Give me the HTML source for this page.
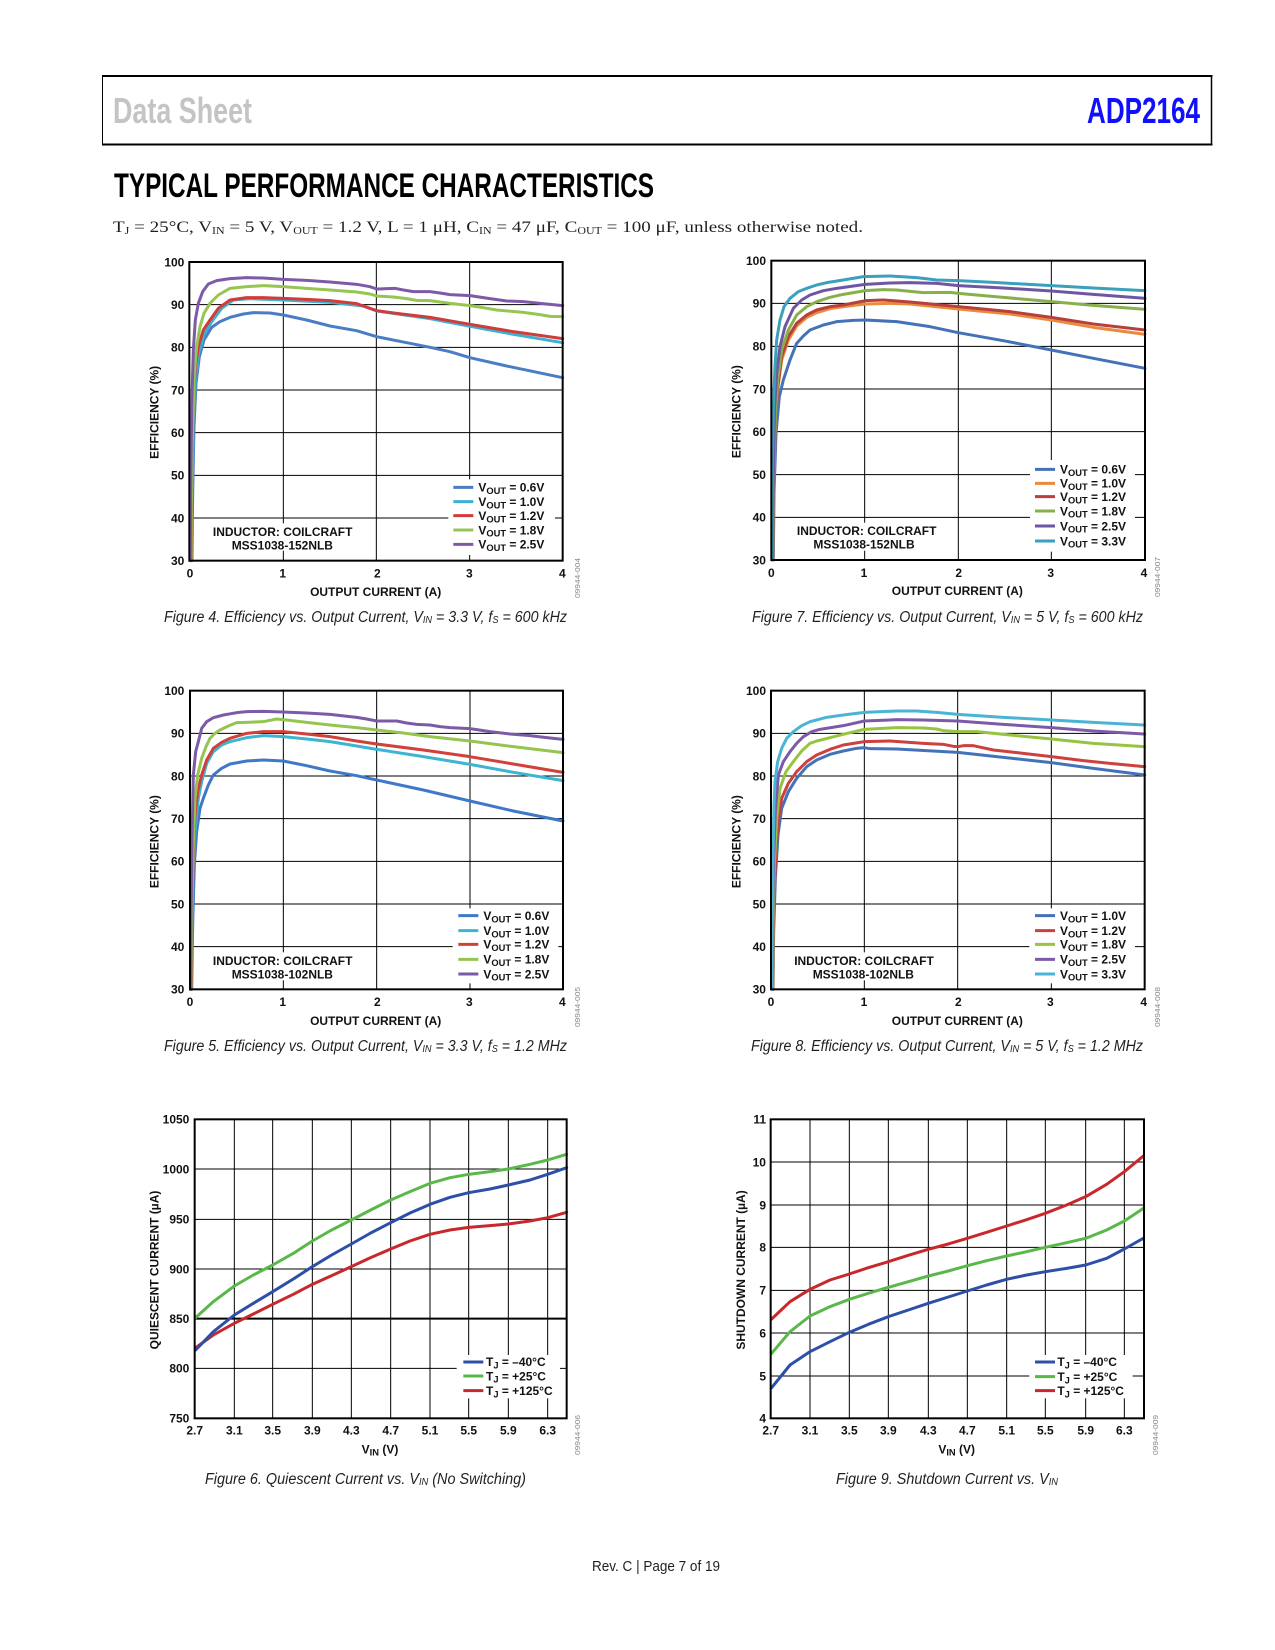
<!DOCTYPE html>
<html><head><meta charset="utf-8"><style>
html,body{margin:0;padding:0;background:#fff;}
svg{display:block;}
.c{fill:none;stroke-width:9;stroke-linejoin:round;stroke-linecap:round;}
.t{font-family:"Liberation Sans",Arial,sans-serif;font-weight:bold;font-size:36px;fill:#111;}
.cap{font-family:"Liberation Sans",Arial,sans-serif;font-style:italic;font-size:15.5px;fill:#231f20;}
.fid{font-family:"Liberation Sans",Arial,sans-serif;font-size:7.5px;fill:#888;}
</style></head><body>
<svg width="1275" height="1650" viewBox="0 0 1275 1650" xmlns="http://www.w3.org/2000/svg">
<rect width="1275" height="1650" fill="#fff"/>
<!-- header -->
<line x1="102" y1="76" x2="1212.5" y2="76" stroke="#000" stroke-width="2"/>
<line x1="102" y1="144.5" x2="1212.5" y2="144.5" stroke="#000" stroke-width="2"/>
<line x1="102.5" y1="76" x2="102.5" y2="144.5" stroke="#000" stroke-width="1"/>
<line x1="1211.5" y1="76" x2="1211.5" y2="144.5" stroke="#000" stroke-width="1.5"/>
<text x="113" y="123" font-family="Liberation Sans, Arial, sans-serif" font-size="36" font-weight="bold" fill="#c4c4c4" textLength="139" lengthAdjust="spacingAndGlyphs">Data Sheet</text>
<text x="1087" y="123" font-family="Liberation Sans, Arial, sans-serif" font-size="36" font-weight="bold" fill="#1010ff" textLength="113" lengthAdjust="spacingAndGlyphs">ADP2164</text>
<text x="114" y="197" font-family="Liberation Sans, Arial, sans-serif" font-size="34" font-weight="bold" fill="#000" textLength="540" lengthAdjust="spacingAndGlyphs">TYPICAL PERFORMANCE CHARACTERISTICS</text>
<text x="113" y="232" font-family="Liberation Serif, Times New Roman, serif" font-size="16" fill="#231f20" textLength="750" lengthAdjust="spacingAndGlyphs">T<tspan font-size="10" dy="2">J</tspan><tspan dy="-2"> = 25°C, V</tspan><tspan font-size="10" dy="2">IN</tspan><tspan dy="-2"> = 5 V, V</tspan><tspan font-size="10" dy="2">OUT</tspan><tspan dy="-2"> = 1.2 V, L = 1 μH, C</tspan><tspan font-size="10" dy="2">IN</tspan><tspan dy="-2"> = 47 μF, C</tspan><tspan font-size="10" dy="2">OUT</tspan><tspan dy="-2"> = 100 μF, unless otherwise noted.</tspan></text>

<!-- ============ CHART A (Fig 4) ============ -->
<g transform="translate(130,240) scale(0.333333)">
 <g stroke="#000" stroke-width="3">
  <line x1="460" y1="66" x2="460" y2="962"/><line x1="739" y1="66" x2="739" y2="962"/><line x1="1019" y1="66" x2="1019" y2="962"/>
  <line x1="178" y1="194" x2="1298" y2="194"/><line x1="178" y1="322" x2="1298" y2="322"/><line x1="178" y1="450" x2="1298" y2="450"/>
  <line x1="178" y1="578" x2="1298" y2="578"/><line x1="178" y1="706" x2="1298" y2="706"/><line x1="178" y1="834" x2="1298" y2="834"/>
 </g>
 <rect x="955" y="718" width="320" height="227" fill="#fff"/>
 <rect x="235" y="850" width="450" height="82" fill="#fff"/>
 <polyline class="c" stroke="#4a7dc4" points="186,962 188,760 192,560 198,430 208,350 222,300 245,262 270,245 300,232 340,222 370,218 420,219 460,225 530,240 600,258 680,272 740,290 800,302 900,322 960,335 1020,353 1130,378 1298,413"/>
 <polyline class="c" stroke="#3cb0d0" points="184,962 186,760 190,540 196,420 206,340 222,285 245,245 275,205 310,180 360,176 460,180 600,187 700,198 740,213 900,236 1020,259 1150,283 1298,308"/>
 <polyline class="c" stroke="#d03c3c" points="184,962 186,700 190,480 196,380 205,320 220,270 240,240 265,205 300,180 350,173 400,173 460,175 530,178 600,182 680,191 740,212 800,220 900,232 1020,253 1150,275 1298,296"/>
 <polyline class="c" stroke="#98c452" points="183,962 184,800 188,560 193,400 200,320 210,260 222,220 240,190 265,165 300,145 350,140 400,137 460,140 530,145 600,150 680,156 720,162 740,168 790,171 830,176 860,181 900,182 960,190 1020,197 1060,203 1100,210 1180,217 1230,224 1260,229 1298,230"/>
 <polyline class="c" stroke="#7d5aa8" points="181,962 182,760 185,500 190,330 196,240 205,190 218,155 235,132 260,122 300,116 350,113 400,114 460,118 530,121 600,126 680,133 720,140 740,147 770,146 795,145 820,150 850,155 900,155 930,159 960,164 1020,167 1080,176 1130,183 1180,185 1230,190 1298,197"/>
 <rect x="178" y="66" width="1120" height="896" fill="none" stroke="#000" stroke-width="6"/>
 <g class="t">
  <g text-anchor="end"><text x="163" y="79">100</text><text x="163" y="207">90</text><text x="163" y="335">80</text><text x="163" y="463">70</text><text x="163" y="591">60</text><text x="163" y="719">50</text><text x="163" y="847">40</text><text x="163" y="975">30</text></g>
  <g text-anchor="middle"><text x="180" y="1013">0</text><text x="458" y="1013">1</text><text x="742" y="1013">2</text><text x="1018" y="1013">3</text><text x="1297" y="1013">4</text>
  <text x="737" y="1068">OUTPUT CURRENT (A)</text>
  <text transform="translate(72,517) rotate(-90)" x="0" y="13">EFFICIENCY (%)</text>
  <text x="458" y="888">INDUCTOR: COILCRAFT</text><text x="457" y="928">MSS1038-152NLB</text></g>
  <g stroke-width="9">
   <line x1="970" y1="742" x2="1030" y2="742" stroke="#4a7dc4"/><line x1="970" y1="785" x2="1030" y2="785" stroke="#3cb0d0"/><line x1="970" y1="827" x2="1030" y2="827" stroke="#d03c3c"/><line x1="970" y1="870" x2="1030" y2="870" stroke="#98c452"/><line x1="970" y1="913" x2="1030" y2="913" stroke="#7d5aa8"/>
  </g>
  <text x="1045" y="755">V<tspan font-size="28" dy="7">OUT</tspan><tspan dy="-7"> = 0.6V</tspan></text>
  <text x="1045" y="798">V<tspan font-size="28" dy="7">OUT</tspan><tspan dy="-7"> = 1.0V</tspan></text>
  <text x="1045" y="840">V<tspan font-size="28" dy="7">OUT</tspan><tspan dy="-7"> = 1.2V</tspan></text>
  <text x="1045" y="883">V<tspan font-size="28" dy="7">OUT</tspan><tspan dy="-7"> = 1.8V</tspan></text>
  <text x="1045" y="926">V<tspan font-size="28" dy="7">OUT</tspan><tspan dy="-7"> = 2.5V</tspan></text>
 </g>
</g>
<text class="fid" transform="translate(580,578) rotate(-90)" text-anchor="middle" textLength="40" lengthAdjust="spacingAndGlyphs">09944-004</text>
<text class="cap" x="164" y="622" textLength="403" lengthAdjust="spacingAndGlyphs">Figure 4. Efficiency vs. Output Current, V<tspan font-size="10" dy="1">IN</tspan><tspan dy="-1"> = 3.3 V, f</tspan><tspan font-size="10" dy="1">S</tspan><tspan dy="-1"> = 600 kHz</tspan></text>

<!-- ============ CHART B (Fig 7) ============ -->
<g transform="translate(710,240) scale(0.333333)">
 <g stroke="#000" stroke-width="3">
  <line x1="464" y1="62" x2="464" y2="960"/><line x1="745" y1="62" x2="745" y2="960"/><line x1="1024" y1="62" x2="1024" y2="960"/>
  <line x1="184" y1="190" x2="1305" y2="190"/><line x1="184" y1="319" x2="1305" y2="319"/><line x1="184" y1="447" x2="1305" y2="447"/>
  <line x1="184" y1="575" x2="1305" y2="575"/><line x1="184" y1="704" x2="1305" y2="704"/><line x1="184" y1="832" x2="1305" y2="832"/>
 </g>
 <rect x="960" y="660" width="315" height="275" fill="#fff"/>
 <rect x="245" y="848" width="450" height="84" fill="#fff"/>
 <polyline class="c" stroke="#4472b8" points="190,960 192,760 198,580 208,470 220,420 240,360 260,310 280,288 300,270 340,255 380,245 430,241 466,240 560,245 660,260 745,278 880,302 1024,330 1150,355 1305,385"/>
 <polyline class="c" stroke="#ea8a3c" points="189,960 191,730 196,550 203,450 215,360 235,300 260,258 290,232 320,218 360,206 400,200 466,192 540,190 600,192 745,207 900,222 1024,240 1150,262 1305,283"/>
 <polyline class="c" stroke="#b8403c" points="189,960 191,720 196,540 203,440 215,350 235,290 260,250 290,225 320,210 360,200 400,195 466,182 520,180 600,186 745,200 900,215 1024,232 1150,252 1305,270"/>
 <polyline class="c" stroke="#88b04a" points="189,960 191,720 196,520 203,420 215,330 235,270 260,225 290,200 320,185 360,172 400,163 466,152 520,149 560,150 620,156 640,158 720,157 745,160 880,172 1024,185 1150,196 1305,208"/>
 <polyline class="c" stroke="#6f56a2" points="188,960 190,700 194,500 200,400 210,320 225,260 250,205 275,180 300,165 340,152 380,145 466,133 540,129 600,128 680,130 745,137 880,144 1024,153 1150,163 1305,175"/>
 <polyline class="c" stroke="#3aa0bc" points="186,960 187,700 190,500 195,380 200,300 210,240 222,200 240,175 265,155 290,145 320,135 350,128 400,120 460,110 540,108 620,113 680,120 745,122 850,127 1024,137 1150,144 1305,152"/>
 <rect x="184" y="62" width="1121" height="898" fill="none" stroke="#000" stroke-width="6"/>
 <g class="t">
  <g text-anchor="end"><text x="168" y="75">100</text><text x="168" y="203">90</text><text x="168" y="332">80</text><text x="168" y="460">70</text><text x="168" y="588">60</text><text x="168" y="717">50</text><text x="168" y="845">40</text><text x="168" y="973">30</text></g>
  <g text-anchor="middle"><text x="184" y="1011">0</text><text x="462" y="1011">1</text><text x="746" y="1011">2</text><text x="1022" y="1011">3</text><text x="1302" y="1011">4</text>
  <text x="742" y="1065">OUTPUT CURRENT (A)</text>
  <text transform="translate(78,515) rotate(-90)" x="0" y="13">EFFICIENCY (%)</text>
  <text x="470" y="885">INDUCTOR: COILCRAFT</text><text x="462" y="926">MSS1038-152NLB</text></g>
  <g stroke-width="9">
   <line x1="975" y1="688" x2="1035" y2="688" stroke="#4472b8"/><line x1="975" y1="730" x2="1035" y2="730" stroke="#ea8a3c"/><line x1="975" y1="770" x2="1035" y2="770" stroke="#b8403c"/><line x1="975" y1="813" x2="1035" y2="813" stroke="#88b04a"/><line x1="975" y1="858" x2="1035" y2="858" stroke="#6f56a2"/><line x1="975" y1="903" x2="1035" y2="903" stroke="#3aa0bc"/>
  </g>
  <text x="1050" y="701">V<tspan font-size="28" dy="7">OUT</tspan><tspan dy="-7"> = 0.6V</tspan></text>
  <text x="1050" y="743">V<tspan font-size="28" dy="7">OUT</tspan><tspan dy="-7"> = 1.0V</tspan></text>
  <text x="1050" y="783">V<tspan font-size="28" dy="7">OUT</tspan><tspan dy="-7"> = 1.2V</tspan></text>
  <text x="1050" y="826">V<tspan font-size="28" dy="7">OUT</tspan><tspan dy="-7"> = 1.8V</tspan></text>
  <text x="1050" y="871">V<tspan font-size="28" dy="7">OUT</tspan><tspan dy="-7"> = 2.5V</tspan></text>
  <text x="1050" y="916">V<tspan font-size="28" dy="7">OUT</tspan><tspan dy="-7"> = 3.3V</tspan></text>
 </g>
</g>
<text class="fid" transform="translate(1160,577) rotate(-90)" text-anchor="middle" textLength="40" lengthAdjust="spacingAndGlyphs">09944-007</text>
<text class="cap" x="752" y="622" textLength="391" lengthAdjust="spacingAndGlyphs">Figure 7. Efficiency vs. Output Current, V<tspan font-size="10" dy="1">IN</tspan><tspan dy="-1"> = 5 V, f</tspan><tspan font-size="10" dy="1">S</tspan><tspan dy="-1"> = 600 kHz</tspan></text>

<!-- ============ CHART C (Fig 5) ============ -->
<g transform="translate(130,665) scale(0.333333)">
 <g stroke="#000" stroke-width="3">
  <line x1="460" y1="77" x2="460" y2="973"/><line x1="740" y1="77" x2="740" y2="973"/><line x1="1020" y1="77" x2="1020" y2="973"/>
  <line x1="180" y1="205" x2="1299" y2="205"/><line x1="180" y1="333" x2="1299" y2="333"/><line x1="180" y1="461" x2="1299" y2="461"/>
  <line x1="180" y1="589" x2="1299" y2="589"/><line x1="180" y1="717" x2="1299" y2="717"/><line x1="180" y1="845" x2="1299" y2="845"/>
 </g>
 <rect x="968" y="730" width="317" height="225" fill="#fff"/>
 <rect x="235" y="862" width="450" height="84" fill="#fff"/>
 <polyline class="c" stroke="#3f78c8" points="185,973 188,780 193,600 200,500 210,430 220,400 235,360 250,330 275,310 300,297 350,288 400,285 460,288 530,302 600,318 680,332 740,345 880,375 1020,408 1150,438 1299,468"/>
 <polyline class="c" stroke="#3cb4d2" points="184,973 186,780 190,600 195,500 205,400 215,350 230,295 250,260 275,240 300,230 350,218 400,212 460,215 530,222 600,230 680,243 740,253 880,275 1020,298 1150,322 1299,347"/>
 <polyline class="c" stroke="#d2403a" points="184,973 186,760 190,560 195,450 203,380 215,330 230,285 250,250 275,232 300,220 350,205 400,200 460,200 530,207 600,215 680,228 740,237 880,255 1020,275 1150,297 1299,322"/>
 <polyline class="c" stroke="#96c450" points="183,973 185,780 189,560 195,400 203,330 215,280 228,245 240,220 255,205 270,195 295,183 320,173 350,172 400,170 440,162 460,164 530,172 600,180 680,188 740,195 820,204 900,215 1020,228 1150,245 1299,263"/>
 <polyline class="c" stroke="#7c5ba6" points="182,973 183,760 186,520 190,330 197,260 205,230 215,190 230,170 250,158 280,150 320,143 350,140 400,139 460,141 530,144 600,148 680,157 710,162 740,168 800,168 830,174 860,178 900,180 930,185 960,188 1020,191 1080,200 1140,207 1200,212 1250,218 1299,223"/>
 <rect x="180" y="77" width="1119" height="896" fill="none" stroke="#000" stroke-width="6"/>
 <g class="t">
  <g text-anchor="end"><text x="163" y="90">100</text><text x="163" y="218">90</text><text x="163" y="346">80</text><text x="163" y="474">70</text><text x="163" y="602">60</text><text x="163" y="730">50</text><text x="163" y="858">40</text><text x="163" y="986">30</text></g>
  <g text-anchor="middle"><text x="180" y="1023">0</text><text x="458" y="1023">1</text><text x="742" y="1023">2</text><text x="1018" y="1023">3</text><text x="1297" y="1023">4</text>
  <text x="737" y="1080">OUTPUT CURRENT (A)</text>
  <text transform="translate(72,530) rotate(-90)" x="0" y="13">EFFICIENCY (%)</text>
  <text x="458" y="900">INDUCTOR: COILCRAFT</text><text x="457" y="941">MSS1038-102NLB</text></g>
  <g stroke-width="9">
   <line x1="985" y1="752" x2="1045" y2="752" stroke="#3f78c8"/><line x1="985" y1="797" x2="1045" y2="797" stroke="#3cb4d2"/><line x1="985" y1="838" x2="1045" y2="838" stroke="#d2403a"/><line x1="985" y1="883" x2="1045" y2="883" stroke="#96c450"/><line x1="985" y1="927" x2="1045" y2="927" stroke="#7c5ba6"/>
  </g>
  <text x="1060" y="765">V<tspan font-size="28" dy="7">OUT</tspan><tspan dy="-7"> = 0.6V</tspan></text>
  <text x="1060" y="810">V<tspan font-size="28" dy="7">OUT</tspan><tspan dy="-7"> = 1.0V</tspan></text>
  <text x="1060" y="851">V<tspan font-size="28" dy="7">OUT</tspan><tspan dy="-7"> = 1.2V</tspan></text>
  <text x="1060" y="896">V<tspan font-size="28" dy="7">OUT</tspan><tspan dy="-7"> = 1.8V</tspan></text>
  <text x="1060" y="940">V<tspan font-size="28" dy="7">OUT</tspan><tspan dy="-7"> = 2.5V</tspan></text>
 </g>
</g>
<text class="fid" transform="translate(580,1007) rotate(-90)" text-anchor="middle" textLength="40" lengthAdjust="spacingAndGlyphs">09944-005</text>
<text class="cap" x="164" y="1051" textLength="403" lengthAdjust="spacingAndGlyphs">Figure 5. Efficiency vs. Output Current, V<tspan font-size="10" dy="1">IN</tspan><tspan dy="-1"> = 3.3 V, f</tspan><tspan font-size="10" dy="1">S</tspan><tspan dy="-1"> = 1.2 MHz</tspan></text>

<!-- ============ CHART D (Fig 8) ============ -->
<g transform="translate(710,665) scale(0.333333)">
 <g stroke="#000" stroke-width="3">
  <line x1="463" y1="77" x2="463" y2="973"/><line x1="743" y1="77" x2="743" y2="973"/><line x1="1024" y1="77" x2="1024" y2="973"/>
  <line x1="183" y1="205" x2="1304" y2="205"/><line x1="183" y1="333" x2="1304" y2="333"/><line x1="183" y1="461" x2="1304" y2="461"/>
  <line x1="183" y1="589" x2="1304" y2="589"/><line x1="183" y1="717" x2="1304" y2="717"/><line x1="183" y1="845" x2="1304" y2="845"/>
 </g>
 <rect x="958" y="730" width="317" height="225" fill="#fff"/>
 <rect x="240" y="862" width="450" height="84" fill="#fff"/>
 <polyline class="c" stroke="#4472b8" points="189,973 191,800 196,640 204,510 215,430 235,380 260,340 290,305 320,285 360,268 400,258 440,250 463,248 480,251 560,252 743,262 880,277 1024,293 1150,310 1304,330"/>
 <polyline class="c" stroke="#cc403e" points="189,973 190,800 195,620 203,480 215,400 235,355 260,320 290,290 320,270 360,253 400,240 463,230 540,228 640,235 700,238 730,244 743,245 760,242 790,242 850,255 940,265 1024,275 1120,287 1200,295 1304,305"/>
 <polyline class="c" stroke="#96c440" points="188,973 189,780 193,600 200,460 210,370 228,320 250,290 275,258 300,235 320,228 360,218 400,208 463,193 560,188 640,189 680,192 700,197 743,200 800,200 900,210 1024,222 1150,235 1304,245"/>
 <polyline class="c" stroke="#7c5aa8" points="187,973 188,760 191,580 196,440 205,330 220,290 240,260 260,235 280,215 305,200 330,193 400,182 463,168 560,164 640,165 743,168 880,178 1024,188 1150,198 1304,207"/>
 <polyline class="c" stroke="#4ab4d4" points="186,973 187,760 189,560 192,420 195,350 203,290 215,250 230,220 250,200 275,182 300,170 350,157 400,150 463,142 560,138 620,138 680,142 743,148 880,157 1024,165 1150,172 1304,180"/>
 <rect x="183" y="77" width="1121" height="896" fill="none" stroke="#000" stroke-width="6"/>
 <g class="t">
  <g text-anchor="end"><text x="168" y="90">100</text><text x="168" y="218">90</text><text x="168" y="346">80</text><text x="168" y="474">70</text><text x="168" y="602">60</text><text x="168" y="730">50</text><text x="168" y="858">40</text><text x="168" y="986">30</text></g>
  <g text-anchor="middle"><text x="183" y="1023">0</text><text x="462" y="1023">1</text><text x="745" y="1023">2</text><text x="1021" y="1023">3</text><text x="1301" y="1023">4</text>
  <text x="742" y="1080">OUTPUT CURRENT (A)</text>
  <text transform="translate(78,530) rotate(-90)" x="0" y="13">EFFICIENCY (%)</text>
  <text x="462" y="900">INDUCTOR: COILCRAFT</text><text x="460" y="941">MSS1038-102NLB</text></g>
  <g stroke-width="9">
   <line x1="975" y1="752" x2="1035" y2="752" stroke="#4472b8"/><line x1="975" y1="797" x2="1035" y2="797" stroke="#cc403e"/><line x1="975" y1="838" x2="1035" y2="838" stroke="#96c440"/><line x1="975" y1="883" x2="1035" y2="883" stroke="#7c5aa8"/><line x1="975" y1="927" x2="1035" y2="927" stroke="#4ab4d4"/>
  </g>
  <text x="1050" y="765">V<tspan font-size="28" dy="7">OUT</tspan><tspan dy="-7"> = 1.0V</tspan></text>
  <text x="1050" y="810">V<tspan font-size="28" dy="7">OUT</tspan><tspan dy="-7"> = 1.2V</tspan></text>
  <text x="1050" y="851">V<tspan font-size="28" dy="7">OUT</tspan><tspan dy="-7"> = 1.8V</tspan></text>
  <text x="1050" y="896">V<tspan font-size="28" dy="7">OUT</tspan><tspan dy="-7"> = 2.5V</tspan></text>
  <text x="1050" y="940">V<tspan font-size="28" dy="7">OUT</tspan><tspan dy="-7"> = 3.3V</tspan></text>
 </g>
</g>
<text class="fid" transform="translate(1160,1007) rotate(-90)" text-anchor="middle" textLength="40" lengthAdjust="spacingAndGlyphs">09944-008</text>
<text class="cap" x="751" y="1051" textLength="392" lengthAdjust="spacingAndGlyphs">Figure 8. Efficiency vs. Output Current, V<tspan font-size="10" dy="1">IN</tspan><tspan dy="-1"> = 5 V, f</tspan><tspan font-size="10" dy="1">S</tspan><tspan dy="-1"> = 1.2 MHz</tspan></text>

<!-- ============ CHART E (Fig 6) ============ -->
<g transform="translate(130,1095) scale(0.333333)">
 <g stroke="#000" stroke-width="3">
  <line x1="313" y1="73" x2="313" y2="970"/><line x1="428" y1="73" x2="428" y2="970"/><line x1="547" y1="73" x2="547" y2="970"/><line x1="664" y1="73" x2="664" y2="970"/><line x1="782" y1="73" x2="782" y2="970"/><line x1="900" y1="73" x2="900" y2="970"/><line x1="1016" y1="73" x2="1016" y2="970"/><line x1="1135" y1="73" x2="1135" y2="970"/><line x1="1253" y1="73" x2="1253" y2="970"/>
  <line x1="194" y1="222" x2="1310" y2="222"/><line x1="194" y1="373" x2="1310" y2="373"/><line x1="194" y1="522" x2="1310" y2="522"/><line x1="194" y1="820" x2="1310" y2="820"/>
  <line x1="194" y1="671" x2="1310" y2="671" stroke-width="6"/>
 </g>
 <rect x="980" y="780" width="310" height="130" fill="#fff"/>
 <polyline class="c" stroke="#c8282c" points="197,758 250,720 313,685 370,657 428,628 490,598 547,568 605,542 664,515 722,488 782,462 840,438 900,418 960,405 1016,397 1080,392 1135,387 1200,378 1253,368 1310,352"/>
 <polyline class="c" stroke="#2d4fa8" points="197,765 250,710 313,660 370,625 428,590 490,552 547,515 605,480 664,447 722,414 782,383 840,354 900,328 960,307 1016,293 1080,282 1135,270 1200,255 1253,238 1310,218"/>
 <polyline class="c" stroke="#5ab84a" points="197,668 250,620 313,573 370,540 428,510 490,475 547,438 605,405 664,375 722,345 782,315 840,290 900,265 960,248 1016,238 1080,230 1135,222 1200,208 1253,195 1310,178"/>
 <rect x="194" y="73" width="1116" height="897" fill="none" stroke="#000" stroke-width="6"/>
 <g class="t">
  <g text-anchor="end"><text x="178" y="86">1050</text><text x="178" y="235">1000</text><text x="178" y="386">950</text><text x="178" y="535">900</text><text x="178" y="684">850</text><text x="178" y="833">800</text><text x="178" y="983">750</text></g>
  <g text-anchor="middle"><text x="194" y="1018">2.7</text><text x="313" y="1018">3.1</text><text x="428" y="1018">3.5</text><text x="547" y="1018">3.9</text><text x="664" y="1018">4.3</text><text x="782" y="1018">4.7</text><text x="900" y="1018">5.1</text><text x="1016" y="1018">5.5</text><text x="1135" y="1018">5.9</text><text x="1253" y="1018">6.3</text>
  <text x="750" y="1075">V<tspan font-size="28" dy="7">IN</tspan><tspan dy="-7"> (V)</tspan></text>
  <text transform="translate(72,525) rotate(-90)" x="0" y="13">QUIESCENT CURRENT (µA)</text></g>
  <g stroke-width="9">
   <line x1="1000" y1="801" x2="1060" y2="801" stroke="#2d4fa8"/><line x1="1000" y1="843" x2="1060" y2="843" stroke="#5ab84a"/><line x1="1000" y1="887" x2="1060" y2="887" stroke="#c8282c"/>
  </g>
  <text x="1068" y="813">T<tspan font-size="28" dy="7">J</tspan><tspan dy="-7"> = –40°C</tspan></text>
  <text x="1068" y="856">T<tspan font-size="28" dy="7">J</tspan><tspan dy="-7"> = +25°C</tspan></text>
  <text x="1068" y="900">T<tspan font-size="28" dy="7">J</tspan><tspan dy="-7"> = +125°C</tspan></text>
 </g>
</g>
<text class="fid" transform="translate(580,1435) rotate(-90)" text-anchor="middle" textLength="40" lengthAdjust="spacingAndGlyphs">09944-006</text>
<text class="cap" x="205" y="1484" textLength="321" lengthAdjust="spacingAndGlyphs">Figure 6. Quiescent Current vs. V<tspan font-size="10" dy="1">IN</tspan><tspan dy="-1"> (No Switching)</tspan></text>

<!-- ============ CHART F (Fig 9) ============ -->
<g transform="translate(710,1095) scale(0.333333)">
 <g stroke="#000" stroke-width="3">
  <line x1="300" y1="73" x2="300" y2="970"/><line x1="418" y1="73" x2="418" y2="970"/><line x1="535" y1="73" x2="535" y2="970"/><line x1="655" y1="73" x2="655" y2="970"/><line x1="772" y1="73" x2="772" y2="970"/><line x1="890" y1="73" x2="890" y2="970"/><line x1="1006" y1="73" x2="1006" y2="970"/><line x1="1127" y1="73" x2="1127" y2="970"/><line x1="1243" y1="73" x2="1243" y2="970"/>
  <line x1="182" y1="201" x2="1302" y2="201"/><line x1="182" y1="330" x2="1302" y2="330"/><line x1="182" y1="457" x2="1302" y2="457"/><line x1="182" y1="586" x2="1302" y2="586"/><line x1="182" y1="714" x2="1302" y2="714"/><line x1="182" y1="843" x2="1302" y2="843"/>
 </g>
 <rect x="958" y="780" width="310" height="130" fill="#fff"/>
 <polyline class="c" stroke="#2d4fa8" points="185,878 240,810 300,770 360,740 418,712 475,688 535,665 595,645 655,625 715,606 772,588 830,570 890,553 950,540 1006,530 1070,520 1127,510 1190,490 1243,462 1300,430"/>
 <polyline class="c" stroke="#5ab84a" points="185,775 240,710 300,663 360,635 418,613 475,595 535,577 595,560 655,543 715,528 772,512 830,497 890,483 950,470 1006,457 1070,443 1127,430 1190,405 1243,378 1300,340"/>
 <polyline class="c" stroke="#c8282c" points="185,672 240,620 300,583 360,555 418,537 475,518 535,500 595,481 655,463 715,447 772,430 830,412 890,393 950,374 1006,355 1070,330 1127,305 1190,268 1243,230 1300,183"/>
 <rect x="182" y="73" width="1120" height="897" fill="none" stroke="#000" stroke-width="6"/>
 <g class="t">
  <g text-anchor="end"><text x="168" y="86">11</text><text x="168" y="214">10</text><text x="168" y="343">9</text><text x="168" y="470">8</text><text x="168" y="599">7</text><text x="168" y="727">6</text><text x="168" y="856">5</text><text x="168" y="983">4</text></g>
  <g text-anchor="middle"><text x="182" y="1018">2.7</text><text x="300" y="1018">3.1</text><text x="418" y="1018">3.5</text><text x="535" y="1018">3.9</text><text x="655" y="1018">4.3</text><text x="772" y="1018">4.7</text><text x="890" y="1018">5.1</text><text x="1006" y="1018">5.5</text><text x="1127" y="1018">5.9</text><text x="1243" y="1018">6.3</text>
  <text x="740" y="1075">V<tspan font-size="28" dy="7">IN</tspan><tspan dy="-7"> (V)</tspan></text>
  <text transform="translate(92,525) rotate(-90)" x="0" y="13">SHUTDOWN CURRENT (µA)</text></g>
  <g stroke-width="9">
   <line x1="975" y1="801" x2="1035" y2="801" stroke="#2d4fa8"/><line x1="975" y1="845" x2="1035" y2="845" stroke="#5ab84a"/><line x1="975" y1="887" x2="1035" y2="887" stroke="#c8282c"/>
  </g>
  <text x="1042" y="813">T<tspan font-size="28" dy="7">J</tspan><tspan dy="-7"> = –40°C</tspan></text>
  <text x="1042" y="858">T<tspan font-size="28" dy="7">J</tspan><tspan dy="-7"> = +25°C</tspan></text>
  <text x="1042" y="900">T<tspan font-size="28" dy="7">J</tspan><tspan dy="-7"> = +125°C</tspan></text>
 </g>
</g>
<text class="fid" transform="translate(1158,1435) rotate(-90)" text-anchor="middle" textLength="40" lengthAdjust="spacingAndGlyphs">09944-009</text>
<text class="cap" x="836" y="1484" textLength="222" lengthAdjust="spacingAndGlyphs">Figure 9. Shutdown Current vs. V<tspan font-size="10" dy="1">IN</tspan></text>

<!-- footer -->
<text x="592" y="1571" font-family="Liberation Sans, Arial, sans-serif" font-size="14.5" fill="#231f20" textLength="128" lengthAdjust="spacingAndGlyphs">Rev. C | Page 7 of 19</text>
</svg>
</body></html>
